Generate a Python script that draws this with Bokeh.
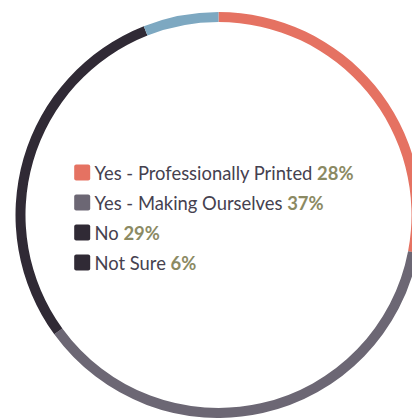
import math
import subprocess
from bokeh.plotting import figure
from bokeh.models import Range1d, ColumnDataSource
from bokeh.core.properties import value
from bokeh.embed import file_html
from bokeh.resources import INLINE

# ---- data ----
categories = ["Yes - Professionally Printed", "Yes - Making Ourselves", "No", "Not Sure"]
shares = [28, 37, 29, 6]
arc_colors = ["#E57262", "#6C6774", "#302A35", "#7DA8C1"]
legend_colors = ["#E57262", "#6C6774", "#302A35", "#302A35"]

FONT = "Lato"
FS = 18.4
text_color = "#45414F"
pct_color = "#8B8A63"

pct_labels = [f"{s}%" for s in shares]

# measure text widths
def measure(texts, bold=False):
    try:
        from PIL import ImageFont
        pat = FONT + (":bold" if bold else "")
        path = subprocess.run(["fc-match", "-f", "%{file}", pat], capture_output=True, text=True).stdout.strip()
        f = ImageFont.truetype(path, FS)
        return [f.getlength(t) for t in texts]
    except Exception:
        return [len(t) * FS * 0.5 for t in texts]

label_w = measure([c + " " for c in categories])

# ---- geometry (pixel frame, center of ring at origin) ----
W, H = 412, 418
cx_px, cy_px = 218, 214.5  # ring center inside the plot frame
R_out, R_in = 203, 193

p = figure(width=W, height=H, output_backend="svg", toolbar_location=None,
           x_range=Range1d(-cx_px, W - cx_px), y_range=Range1d(cy_px - H, cy_px),
           min_border=0, outline_line_color=None)
p.axis.visible = False
p.grid.visible = False
p.background_fill_color = "white"
p.border_fill_color = "white"

total = sum(shares)
starts, ends, cum = [], [], 0
for s in shares:
    starts.append(math.pi / 2 - 2 * math.pi * cum / total)
    cum += s
    ends.append(math.pi / 2 - 2 * math.pi * cum / total)

p.annular_wedge(x=0, y=0, inner_radius=R_in, outer_radius=R_out,
                start_angle=starts, end_angle=ends, direction="clock",
                fill_color=arc_colors, line_color=None)

# legend rows
row_y = [cy_px - 172 - i * 30 for i in range(len(categories))]
sw_left = 73.7 - cx_px
text_x = 94 - cx_px
src = ColumnDataSource(dict(
    top=[y + 8 for y in row_y], bottom=[y - 8 for y in row_y],
    left=[sw_left] * 4, right=[sw_left + 16] * 4,
    color=legend_colors, y=row_y, label=categories, pct=pct_labels,
    px=[text_x + w for w in label_w],
))
p.quad(left="left", right="right", top="top", bottom="bottom", fill_color="color",
       line_color=None, border_radius=2, source=src)
p.text(x=text_x, y="y", text="label", source=src, text_font=value(FONT),
       text_font_size=f"{FS}px", text_color=text_color, text_baseline="middle", text_align="left")
p.text(x="px", y="y", text="pct", source=src, text_font=value(FONT), text_font_style="bold",
       text_font_size=f"{FS}px", text_color=pct_color, text_baseline="middle", text_align="left")

open("out.html", "w").write(file_html(p, INLINE))
